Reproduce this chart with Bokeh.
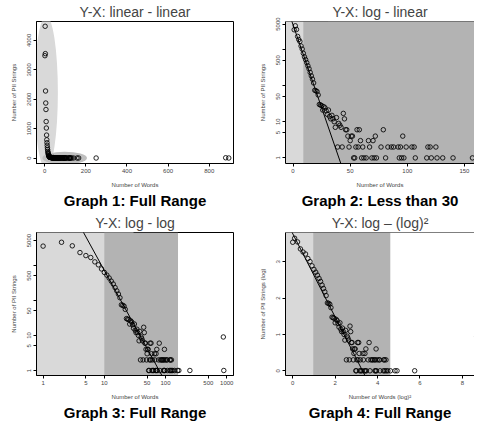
import math
from bokeh.plotting import figure
from bokeh.layouts import column, row
from bokeh.models import (FixedTicker, Range1d, Span, BasicTickFormatter, LinearAxis)
from bokeh.embed import file_html
from bokeh.resources import INLINE

# ---- data: number of words vs number of PII strings ----
words = [1, 2, 3, 4, 5, 6, 7, 8, 9, 10,
         11, 12, 13, 14, 15, 16, 17, 18, 19, 20,
         21, 22, 23, 24, 25, 26, 27, 28, 29, 30,
         31, 32, 33, 34, 35, 36, 37, 38, 39, 40,
         41, 42, 43, 44, 45, 46, 47, 48, 49, 50,
         51, 52, 53, 54, 55, 56, 57, 58, 59, 60,
         61, 62,
         64, 66, 67, 69, 70, 71, 72, 73,
         77, 79, 81, 83, 86, 88,
         92, 93, 94, 95, 96, 97, 99,
         104, 106, 107,
         117, 118, 120, 121, 125, 126,
         131, 140, 157, 165,
         250, 880, 895]
pii = [3480, 4480, 3550, 2280, 1870, 1650, 1240, 1020, 780, 620,
       520, 430, 350, 290, 230, 185, 150, 118, 74, 72,
       68, 55, 30, 29, 28, 21, 26, 24, 20, 16,
       21, 14, 12, 15, 12, 10, 7, 13, 2, 9,
       8, 7, 2, 17, 12, 6, 6, 4, 2, 3,
       4, 4, 1, 1, 2, 6, 2, 6, 3, 1,
       2, 1,
       1, 3, 2, 1, 3, 1, 4, 1,
       2, 6, 1, 2, 2, 2,
       2, 1, 2, 1, 4, 1, 2,
       2, 2, 1,
       1, 2, 2, 1, 2, 1,
       1, 1, 1, 1,
       1, 9, 1]

ticks_x1 = [0, 200, 400, 600, 800]
ticks_y1 = [0, 1000, 2000, 3000, 4000]
ticks_x2 = [0, 50, 100, 150]
ticks_logx = [1, 5, 10, 50, 100, 500, 1000]
ticks_logy = [1, 5, 10, 50, 100, 500, 1000, 5000]
hidden_logy = {100: "", 1000: ""}
ticks_x4 = [0, 2, 4, 6, 8]
ticks_y4 = [0, 1, 2, 3]

# fitted lines (log10 y = a + b * x')
fit2 = (3.68, -0.0917)
fit3 = (6.03, -3.18)
fit4 = (3.78, -1.149)

FONT = "Liberation Sans"
LIGHT = "#d9d9d9"
DARK = "#b3b3b3"
MID = "#bfbfbf"
W = 237


def make(title, caption, xlabel, ylabel, xr, yr, xt, yt, left, right, h, open_right):
    p = figure(width=W, height=h, x_range=Range1d(*xr), y_range=Range1d(*yr),
               x_axis_type=xt, y_axis_type=yt, output_backend="svg",
               toolbar_location=None, min_border_left=left, min_border_right=right,
               min_border_top=0, min_border_bottom=0)
    p.title.text = title
    p.title.align = "center"
    p.title.text_font = FONT
    p.title.text_font_size = "14px"
    p.title.text_font_style = "normal"
    p.title.standoff = 3
    p.grid.visible = False
    for ax in p.axis:
        ax.axis_line_color = "black"
        ax.major_tick_line_color = "black"
        ax.major_tick_in = 0
        ax.major_tick_out = 3
        ax.minor_tick_line_color = None
        ax.major_label_text_font = FONT
        ax.major_label_text_font_size = "6px"
        ax.major_label_standoff = 2
        ax.axis_label_text_font = FONT
        ax.axis_label_text_font_size = "6px"
        ax.axis_label_text_font_style = "normal"
    p.xaxis.axis_label = xlabel
    p.yaxis.axis_label = ylabel
    p.xaxis.axis_label_standoff = 6
    p.yaxis.axis_label_standoff = 8
    p.yaxis.major_label_orientation = "vertical"
    # caption under the axis, as the label of a bare extra axis
    cap = LinearAxis(ticker=FixedTicker(ticks=[]), axis_label=caption,
                     axis_line_color=None, major_tick_line_color=None,
                     minor_tick_line_color=None, major_label_text_font_size="0px",
                     major_tick_out=0, major_tick_in=0, major_label_standoff=0,
                     axis_label_standoff=1, axis_label_text_font=FONT,
                     axis_label_text_font_size="15px", axis_label_text_font_style="bold",
                     axis_label_text_color="black")
    p.add_layout(cap, "below")
    if open_right:
        p.outline_line_color = None
        p.add_layout(Span(location=yr[1], dimension="width", line_color="black", line_width=1))
    else:
        p.outline_line_color = "black"
        p.outline_line_alpha = 1
    return p


def points(p, xs, ys):
    p.scatter(xs, ys, marker="circle", size=4.5, fill_color=None,
              line_color="black", line_width=0.85)


# ---- Graph 1: linear - linear ----
p1 = make("Y-X: linear - linear", "Graph 1: Full Range", "Number of Words",
          "Number of PII Strings", (-40, 918), (-186, 4643), "linear", "linear", 36, 4, 211, False)
p1.ellipse(x=[7], y=[2228], width=[114], height=[5220], fill_color=LIGHT, line_color=None)
p1.ellipse(x=[97], y=[0], width=[217], height=[434], fill_color=MID, line_color=None)
points(p1, words, pii)
p1.xaxis[0].ticker = FixedTicker(ticks=ticks_x1)
p1.yaxis.ticker = FixedTicker(ticks=ticks_y1)

# ---- Graph 2: log - linear ----
yr2 = (0.70, 5890)
p2 = make("Y-X: log - linear", "Graph 2: Less than 30", "Number of Words",
          "Number of PII Strings", (-6.6, 158.8), yr2, "linear", "log", 48, 0, 211, True)
p2.quad(left=[-11], right=[30.5], bottom=[0.3], top=[20000], fill_color=LIGHT, line_color=None)
p2.quad(left=[9], right=[300], bottom=[yr2[0]], top=[yr2[1]], fill_color=DARK, line_color=None)
points(p2, words, pii)
lx2 = [-10, 50]
p2.line(lx2, [10 ** (fit2[0] + fit2[1] * v) for v in lx2], line_color="black", line_width=1)
p2.xaxis[0].ticker = FixedTicker(ticks=ticks_x2)
p2.yaxis.ticker = FixedTicker(ticks=ticks_logy)
p2.yaxis.formatter = BasicTickFormatter()
p2.yaxis.major_label_overrides = hidden_logy

# ---- Graph 3: log - log ----
yr3 = (0.72, 8500)
p3 = make("Y-X: log - log", "Graph 3: Full Range", "Number of Words",
          "Number of PII Strings", (0.78, 1290), yr3, "log", "log", 36, 4, 212, False)
p3.quad(left=[0.68], right=[30], bottom=[0.3], top=[20000], fill_color=LIGHT, line_color=None)
p3.quad(left=[10], right=[160], bottom=[yr3[0]], top=[yr3[1]], fill_color=DARK, line_color=None)
points(p3, words, pii)
lx3 = [2, 200]
p3.line(lx3, [10 ** (fit3[0] + fit3[1] * math.log10(v)) for v in lx3], line_color="black", line_width=1)
p3.xaxis[0].ticker = FixedTicker(ticks=ticks_logx)
p3.xaxis[0].formatter = BasicTickFormatter()
p3.yaxis.ticker = FixedTicker(ticks=ticks_logy)
p3.yaxis.formatter = BasicTickFormatter()
p3.yaxis.major_label_overrides = hidden_logy

# ---- Graph 4: log - (log)^2 ----
lw2 = [math.log10(w) ** 2 for w in words]
lp = [math.log10(c) for c in pii]
yr4 = (-0.13, 3.81)
p4 = make("Y-X: log \u2013 (log)\u00b2", "Graph 4: Full Range", "Number of Words (log)\u00b2",
          "Number of PII Strings (log)", (-0.34, 8.57), yr4, "linear", "linear", 48, 0, 212, True)
p4.quad(left=[-0.6], right=[2.2], bottom=[-1], top=[5], fill_color=LIGHT, line_color=None)
p4.quad(left=[0.97], right=[4.6], bottom=[yr4[0]], top=[yr4[1]], fill_color=DARK, line_color=None)
points(p4, lw2, lp)
lx4 = [-0.5, 4]
p4.line(lx4, [fit4[0] + fit4[1] * v for v in lx4], line_color="black", line_width=1)
p4.xaxis[0].ticker = FixedTicker(ticks=ticks_x4)
p4.yaxis.ticker = FixedTicker(ticks=ticks_y4)

layout = column(row(p1, p2), row(p3, p4))
open("out.html", "w").write(file_html(layout, INLINE))
